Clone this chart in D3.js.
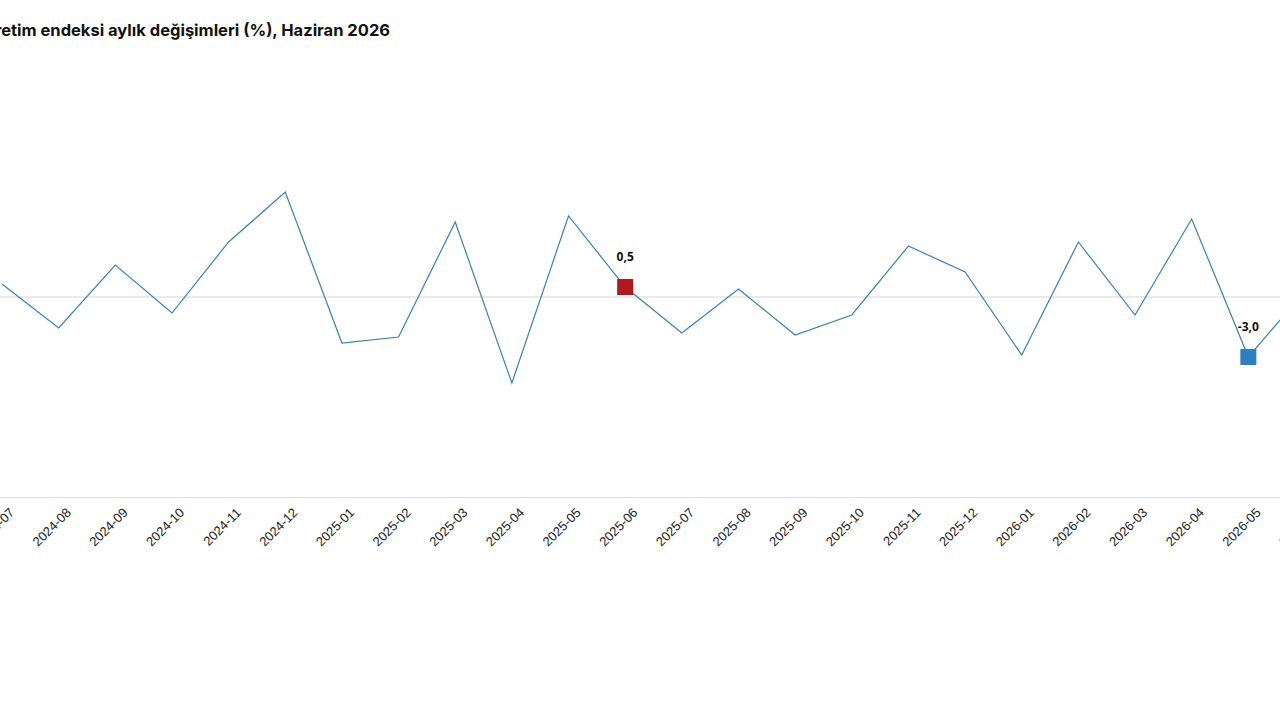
<!DOCTYPE html>
<html><head><meta charset="utf-8">
<script src="https://cdn.jsdelivr.net/npm/d3@7"></script>
<style>body{margin:0;background:#fff;}svg{display:block;font-family:"Open Sans",Roboto,sans-serif;}</style>
</head><body><svg id="c" width="1280" height="720"></svg>
<script>
const months = ["2024-07","2024-08","2024-09","2024-10","2024-11","2024-12","2025-01","2025-02","2025-03","2025-04","2025-05","2025-06","2025-07","2025-08","2025-09","2025-10","2025-11","2025-12","2026-01","2026-02","2026-03","2026-04","2026-05","2026-06"];
const values = [0.65,-1.55,1.6,-0.8,2.75,5.25,-2.3,-2.0,3.75,-4.3,4.05,0.5,-1.8,0.4,-1.9,-0.9,2.55,1.25,-2.9,2.75,-0.9,3.9,-3.0,0.3];
const highlights = [{m:"2025-06",label:"0,5",color:"#b01a1f"},{m:"2026-05",label:"-3,0",color:"#2f7fc0"}];
const title = "Sanayi üretim endeksi aylık değişimleri (%), Haziran 2026";

const svg = d3.select("#c");
const x = d3.scalePoint().domain(months).range([2, 1305]);
const y = d3.scaleLinear().domain([-10, 10]).range([497, 97]);

svg.append("text").attr("x",390).attr("y",36).attr("text-anchor","end")
  .attr("font-family","Inter, sans-serif")
  .attr("font-size",16.5).attr("font-weight",700).attr("fill","#111").text(title);

svg.append("line").attr("x1",0).attr("x2",1280).attr("y1",y(0)).attr("y2",y(0)).attr("stroke","#e3e3e3").attr("stroke-width",1.5);

const ax = svg.append("g").attr("transform",`translate(0,${y(-10)})`).call(d3.axisBottom(x).tickSize(0).tickPadding(16));
ax.select(".domain").attr("stroke","#ddd").attr("d","M0,0.5H1280");
ax.selectAll("text").attr("font-size",13).attr("fill","#222").attr("text-anchor","end")
  .attr("transform","rotate(-45)").attr("dx","-0.2em").attr("dy","0.35em");

svg.append("path").datum(values).attr("fill","none").attr("stroke","#3a7fb3").attr("stroke-width",1.2)
  .attr("d", d3.line().x((d,i)=>x(months[i])).y(d=>y(d)));

highlights.forEach(h=>{
  const v = values[months.indexOf(h.m)];
  svg.append("rect").attr("x",x(h.m)-8).attr("y",y(v)-8).attr("width",16).attr("height",16).attr("fill",h.color);
  svg.append("text").attr("x",x(h.m)).attr("y",y(v)-26).attr("text-anchor","middle")
    .attr("font-size",12).attr("font-weight",700).attr("fill","#111").text(h.label);
});
</script></body></html>
